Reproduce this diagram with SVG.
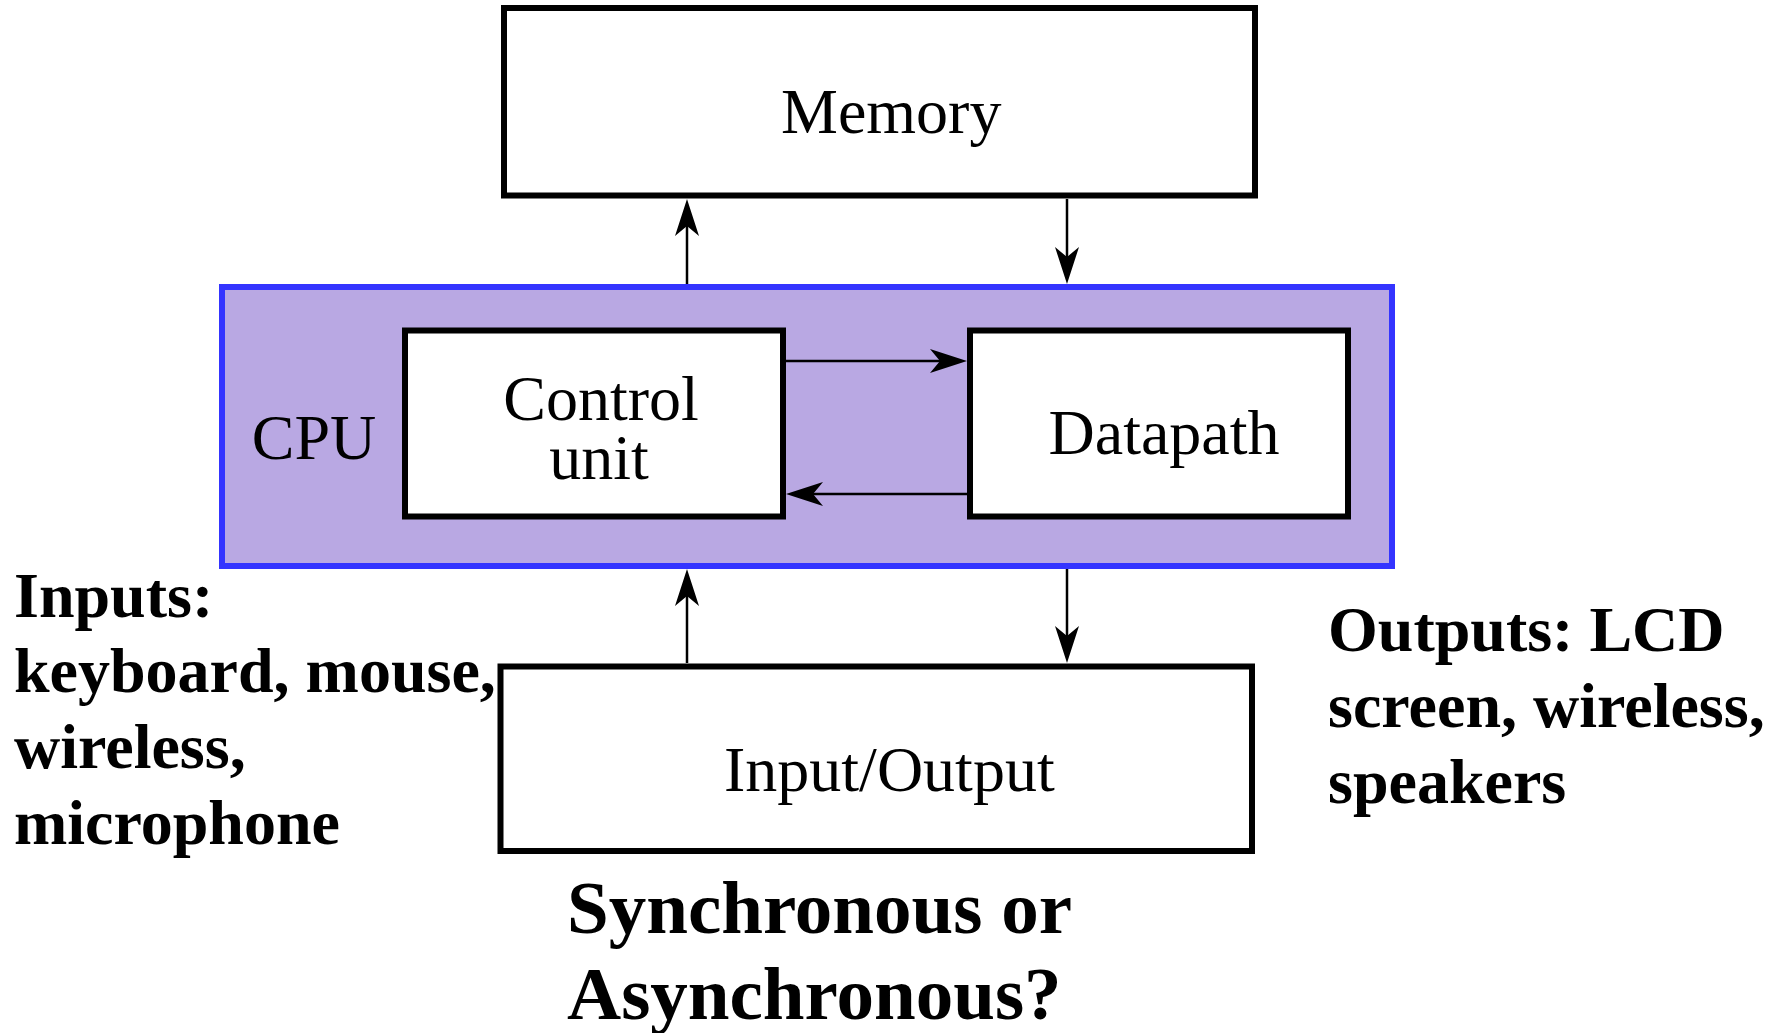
<svg xmlns="http://www.w3.org/2000/svg" width="1779" height="1033" viewBox="0 0 1779 1033">
<style>
.box{fill:#ffffff;stroke:#000000;stroke-width:6}
.cpu{fill:#b9a8e3;stroke:#3434ff;stroke-width:6}
.lbl{font-family:"Liberation Serif","Times New Roman",serif;font-size:64px;fill:#000}
.note{font-family:"Liberation Serif","Times New Roman",serif;font-size:64px;font-weight:bold;fill:#000}
.q{font-family:"Liberation Serif","Times New Roman",serif;font-size:75px;font-weight:bold;fill:#000}
.conn{stroke:#000;stroke-width:2.5;fill:none}
</style>
<defs>
<marker id="ah" markerUnits="userSpaceOnUse" viewBox="-40 -15 42 30" refX="-8" refY="0" markerWidth="42" markerHeight="30" orient="auto">
<path d="M0,0 L-37,-12 L-27,0 L-37,12 Z" fill="#000"/>
</marker>
</defs>
<rect width="1779" height="1033" fill="#ffffff"/>
<g id="cpu">
<rect class="cpu" x="222" y="287" width="1170" height="279"/>
<text class="lbl" x="314" y="459" text-anchor="middle">CPU</text>
</g>
<g id="memory">
<rect class="box" x="504" y="8" width="751" height="187.5"/>
<text class="lbl" x="781" y="133">Memory</text>
</g>
<g id="control-unit">
<rect class="box" x="405" y="330.5" width="378" height="186"/>
<text class="lbl" x="601" y="420" text-anchor="middle">Control</text>
<text class="lbl" x="599" y="479" text-anchor="middle">unit</text>
</g>
<g id="datapath">
<rect class="box" x="970" y="330.5" width="378" height="186"/>
<text class="lbl" x="1164" y="454" text-anchor="middle">Datapath</text>
</g>
<g id="io">
<rect class="box" x="500.5" y="666.5" width="751.5" height="184.5"/>
<text class="lbl" x="724" y="791">Input/Output</text>
</g>
<g id="connectors">
<line class="conn" x1="687" y1="284" x2="687" y2="207" marker-end="url(#ah)"/>
<line class="conn" x1="1067" y1="199" x2="1067" y2="276" marker-end="url(#ah)"/>
<line class="conn" x1="786" y1="361" x2="959" y2="361" marker-end="url(#ah)"/>
<line class="conn" x1="967" y1="494" x2="794" y2="494" marker-end="url(#ah)"/>
<line class="conn" x1="687" y1="663" x2="687" y2="577" marker-end="url(#ah)"/>
<line class="conn" x1="1067" y1="569" x2="1067" y2="655" marker-end="url(#ah)"/>
</g>
<g id="inputs-note">
<text class="note" x="14" y="617">Inputs:</text>
<text class="note" x="14" y="692">keyboard, mouse,</text>
<text class="note" x="14" y="768">wireless,</text>
<text class="note" x="14" y="844">microphone</text>
</g>
<g id="outputs-note">
<text class="note" x="1328" y="651">Outputs: LCD</text>
<text class="note" x="1328" y="727">screen, wireless,</text>
<text class="note" x="1328" y="803">speakers</text>
</g>
<g id="question">
<text class="q" x="567" y="933">Synchronous or</text>
<text class="q" x="567" y="1019">Asynchronous?</text>
</g>
</svg>
